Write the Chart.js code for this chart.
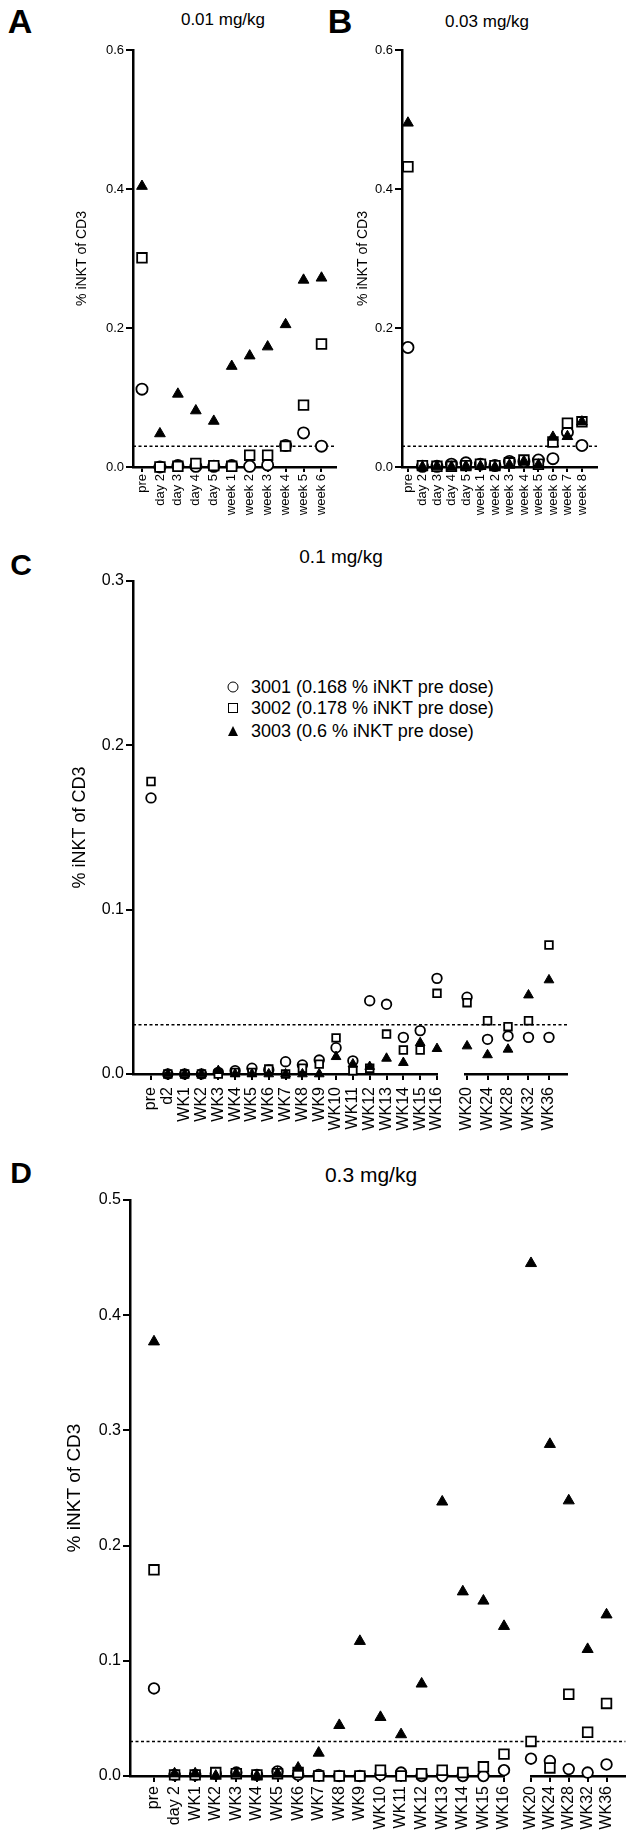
<!DOCTYPE html>
<html>
<head>
<meta charset="utf-8">
<script src="https://cdn.jsdelivr.net/npm/chart.js@4.4.1/dist/chart.umd.min.js"></script>
<style>
html,body{margin:0;padding:0;background:#fff;}
#page{position:relative;width:634px;height:1837px;overflow:hidden;font-family:'Liberation Sans',Arial,Helvetica,sans-serif;color:#000;background:#fff;}
#page canvas{position:absolute;}
.t{position:absolute;white-space:nowrap;line-height:1;transform:translate(-50%,-50%);}
.letter{font-weight:bold;}
.leg{position:absolute;white-space:nowrap;line-height:1;font-size:18px;transform:translateY(-50%);}
.sym{position:absolute;box-sizing:border-box;transform:translate(-50%,-50%);}
</style>
</head>
<body>
<div id="page">
  <div class="t letter" style="left:20px;top:21px;font-size:34px;">A</div>
  <div class="t" style="left:223px;top:19px;font-size:17px;">0.01 mg/kg</div>
  <div class="t letter" style="left:340px;top:21px;font-size:34px;">B</div>
  <div class="t" style="left:487px;top:21px;font-size:17px;">0.03 mg/kg</div>
  <div class="t letter" style="left:21px;top:565px;font-size:30px;">C</div>
  <div class="t" style="left:341px;top:556px;font-size:19px;">0.1 mg/kg</div>
  <div class="t letter" style="left:21px;top:1173px;font-size:30px;">D</div>
  <div class="t" style="left:371px;top:1174px;font-size:21px;">0.3 mg/kg</div>
  <div id="legendC"></div>
</div>
<script>
// ---------- DATA ----------
const yTitle = '% iNKT of CD3';
const cutoff = 0.03;

// Panel A (0.01 mg/kg)
const catsA = ['pre','day 2','day 3','day 4','day 5','week 1','week 2','week 3','week 4','week 5','week 6'];
const aCircle   = [0.112, 0.000, 0.002, 0.001, 0.001, 0.002, 0.001, 0.003, 0.031, 0.049, 0.030];
const aSquare   = [0.301, 0.000, 0.001, 0.005, 0.002, 0.001, 0.017, 0.017, 0.030, 0.089, 0.177];
const aTriangle = [0.404, 0.048, 0.105, 0.081, 0.066, 0.145, 0.160, 0.173, 0.205, 0.269, 0.272];

// Panel B (0.03 mg/kg)
const catsB = ['pre','day 2','day 3','day 4','day 5','week 1','week 2','week 3','week 4','week 5','week 6','week 7','week 8'];
const bCircle   = [0.172, 0.001, 0.001, 0.004, 0.006, 0.004, 0.002, 0.008, 0.008, 0.010, 0.012, 0.050, 0.031];
const bSquare   = [0.432, 0.002, 0.001, 0.001, 0.002, 0.004, 0.002, 0.006, 0.010, 0.004, 0.036, 0.063, 0.065];
const bTriangle = [0.495, 0.000, 0.001, 0.000, 0.001, 0.001, 0.000, 0.003, 0.008, 0.003, 0.043, 0.044, 0.065];

// Panel C (0.1 mg/kg) - two axis segments
const catsC1 = ['pre','d2','WK1','WK2','WK3','WK4','WK5','WK6','WK7','WK8','WK9','WK10','WK11','WK12','WK13','WK14','WK15','WK16'];
const catsC2 = ['WK20','WK24','WK28','WK32','WK36'];
const seriesNamesC = ['3001 (0.168 % iNKT pre dose)','3002 (0.178 % iNKT pre dose)','3003 (0.6 % iNKT pre dose)'];
const c3001 = [0.168, 0, 0, 0, 0.001, 0.002, 0.0035, 0.0025, 0.0075, 0.0055, 0.0085, 0.016, 0.008, 0.0446, 0.0424, 0.0223, 0.0264, 0.0582, 0.0467, 0.0211, 0.0231, 0.0223, 0.0223];
const c3002 = [0.178, 0, 0, 0, 0, 0.001, 0.001, 0.003, 0, 0.0035, 0.006, 0.022, 0.002, 0.0035, 0.0243, 0.0146, 0.0146, 0.0491, 0.0434, 0.0324, 0.0288, 0.0324, 0.0785];
const c3003 = [0.6, 0, 0, 0, 0.002, 0, 0, 0, 0, 0, 0, 0.0105, 0.006, 0.0045, 0.0095, 0.0069, 0.019, 0.0154, 0.017, 0.0116, 0.015, 0.048, 0.0572];

// Panel D (0.3 mg/kg) - two axis segments
const catsD1 = ['pre','day 2','WK1','WK2','WK3','WK4','WK5','WK6','WK7','WK8','WK9','WK10','WK11','WK12','WK13','WK14','WK15','WK16'];
const catsD2 = ['WK20','WK24','WK28','WK32','WK36'];
const dCircle   = [0.076, 0.001, 0.001, 0.002, 0.003, 0.001, 0.004, 0.001, 0.001, 0, 0, 0.001, 0.003, 0, 0, 0, 0, 0.005, 0.015, 0.013, 0.006, 0.003, 0.010];
const dSquare   = [0.179, 0.001, 0.001, 0.003, 0.002, 0.001, 0.002, 0.003, 0, 0, 0, 0.005, 0, 0.002, 0.005, 0.003, 0.008, 0.019, 0.030, 0.007, 0.071, 0.038, 0.063];
const dTriangle = [0.377, 0.002, 0.002, 0, 0.002, 0, 0.002, 0.007, 0.020, 0.044, 0.117, 0.051, 0.036, 0.080, 0.238, 0.160, 0.152, 0.130, 0.445, 0.288, 0.239, 0.110, 0.140];

const yTicksAB = [0, 0.2, 0.4, 0.6];
const yTicksC = [0, 0.1, 0.2, 0.3];
const yTicksD = [0, 0.1, 0.2, 0.3, 0.4, 0.5];

// ---------- RENDERING ----------
Chart.defaults.font.family = "'Liberation Sans', Arial, Helvetica, sans-serif";
Chart.defaults.color = '#000';

const thresholdPlugin = {
  id: 'threshold',
  beforeDatasetsDraw(chart, args, opts) {
    const y = chart.scales.y.getPixelForValue(opts.value);
    const a = chart.chartArea;
    const x2 = opts.toEdge ? chart.width : a.right;
    const ctx = chart.ctx;
    ctx.save();
    ctx.strokeStyle = '#000';
    ctx.lineWidth = opts.width;
    ctx.setLineDash(opts.dash);
    ctx.beginPath();
    ctx.moveTo(a.left, y);
    ctx.lineTo(x2, y);
    ctx.stroke();
    ctx.restore();
  }
};

const page = document.getElementById('page');
const toXY = arr => arr.map((v, i) => ({x: i, y: v}));
const clipBox = {left: 20, right: 20, top: 0, bottom: 20};

function sets(names, circle, square, triangle, r) {
  return [
    {label: names[0], data: toXY(circle), pointStyle: 'circle', pointRadius: r.c, pointBackgroundColor: '#fff', pointBorderColor: '#000', pointBorderWidth: 1.8, showLine: false, order: 3, clip: clipBox},
    {label: names[1], data: toXY(square), pointStyle: 'rect', pointRadius: r.s, pointBackgroundColor: '#fff', pointBorderColor: '#000', pointBorderWidth: 1.8, showLine: false, order: 2, clip: clipBox},
    {label: names[2], data: toXY(triangle), pointStyle: 'triangle', pointRadius: r.t, pointBackgroundColor: '#000', pointBorderColor: '#000', pointBorderWidth: 1, showLine: false, order: 1, clip: clipBox}
  ];
}

function build(o) {
  const cv = document.createElement('canvas');
  cv.width = o.w; cv.height = o.h;
  cv.style.left = o.x + 'px'; cv.style.top = o.y + 'px';
  cv.style.width = o.w + 'px'; cv.style.height = o.h + 'px';
  page.appendChild(cv);
  return new Chart(cv.getContext('2d'), {
    type: 'scatter',
    data: {datasets: o.datasets},
    options: {
      responsive: false, animation: false, events: [],
      layout: {padding: {left: o.padL || 0, top: o.padT, right: o.padR, bottom: 0}},
      plugins: {
        legend: {display: false}, tooltip: {enabled: false},
        threshold: {value: cutoff, toEdge: !!o.toEdge, dash: [3, 2.5], width: 1.5}
      },
      scales: {
        x: {
          type: 'linear', min: o.xMin, max: o.xMax,
          afterBuildTicks: s => { s.ticks = o.cats.map((c, i) => ({value: i})); },
          afterFit: s => { s.height = o.xH; },
          ticks: {autoSkip: false, minRotation: 90, maxRotation: 90, padding: o.xPad, font: {size: o.xFont}, callback: v => o.cats[v]},
          grid: {drawOnChartArea: false, drawTicks: true, tickLength: o.xTick, color: '#000', lineWidth: 2},
          border: {display: true, color: '#000', width: 2.5}
        },
        y: {
          type: 'linear', display: o.showY, min: o.yTicks[0], max: o.yTicks[o.yTicks.length - 1],
          afterBuildTicks: s => { s.ticks = o.yTicks.map(v => ({value: v})); },
          afterFit: s => { s.width = o.yW; },
          ticks: {padding: 2, font: {size: o.yFont}, callback: v => v.toFixed(1)},
          grid: {drawOnChartArea: false, drawTicks: true, tickLength: 7, color: '#000', lineWidth: 2},
          border: {display: true, color: '#000', width: 2.5},
          title: {display: true, text: yTitle, font: {size: o.yTitleFont}, padding: {top: o.yTitlePad, bottom: 0}}
        }
      }
    },
    plugins: [thresholdPlugin]
  });
}

const rAB = {c: 5.6, s: 6.8, t: 6.2};
const rC = {c: 4.8, s: 5.4, t: 5.6};
const rD = {c: 5.3, s: 6.8, t: 6.4};
const genericNames = ['Subject 1', 'Subject 2', 'Subject 3'];

// Panel A
build({x: 0, y: 0, w: 345, h: 530, padT: 50, padR: 7, yW: 133, xH: 63,
  xMin: -0.5, xMax: 10.83, cats: catsA, xFont: 13, xTick: 5, xPad: 2,
  showY: true, yTicks: yTicksAB, yFont: 13, yTitleFont: 14, yTitlePad: 73.6,
  datasets: sets(genericNames, aCircle, aSquare, aTriangle, rAB)});

// Panel B
build({x: 345, y: 0, w: 289, h: 530, padT: 50, padR: 37, yW: 57, xH: 63,
  xMin: -0.41, xMax: 13.04, cats: catsB, xFont: 13, xTick: 5, xPad: 2,
  showY: true, yTicks: yTicksAB, yFont: 13, yTitleFont: 14, yTitlePad: 9.6,
  datasets: sets(genericNames, bCircle, bSquare, bTriangle, rAB)});

// Panel C - first segment
const nC1 = catsC1.length;
build({x: 0, y: 540, w: 465, h: 610, padT: 41, padR: 28, yW: 133, xH: 76,
  xMin: -1.07, xMax: nC1 - 1, cats: catsC1, xFont: 16, xTick: 6, xPad: 7, toEdge: true,
  showY: true, yTicks: yTicksC, yFont: 16, yTitleFont: 18, yTitlePad: 69,
  datasets: sets(seriesNamesC, c3001.slice(0, nC1), c3002.slice(0, nC1), c3003.slice(0, nC1), rC)});
// Panel C - second segment
build({x: 449, y: 540, w: 185, h: 610, padL: 16, padT: 41, padR: 67, yW: 0, xH: 76,
  xMin: -0.1, xMax: 4.88, cats: catsC2, xFont: 16, xTick: 6, xPad: 7,
  showY: false, yTicks: yTicksC, yFont: 16, yTitleFont: 18, yTitlePad: 0,
  datasets: sets(seriesNamesC, c3001.slice(nC1), c3002.slice(nC1), c3003.slice(nC1), rC)});

// Panel D - first segment
const nD1 = catsD1.length;
build({x: 0, y: 1150, w: 531, h: 687, padT: 50, padR: 27, yW: 130, xH: 61,
  xMin: -1.165, xMax: nD1 - 1, cats: catsD1, xFont: 16, xTick: 6, xPad: 4, toEdge: true,
  showY: true, yTicks: yTicksD, yFont: 16, yTitleFont: 19, yTitlePad: 63.6,
  datasets: sets(genericNames, dCircle.slice(0, nD1), dSquare.slice(0, nD1), dTriangle.slice(0, nD1), rD)});
// Panel D - second segment
build({x: 515, y: 1150, w: 119, h: 687, padL: 16, padT: 50, padR: 1, yW: 0, xH: 61,
  xMin: 0, xMax: 5.0, cats: catsD2, xFont: 16, xTick: 6, xPad: 4,
  showY: false, yTicks: yTicksD, yFont: 16, yTitleFont: 19, yTitlePad: 0,
  datasets: sets(genericNames, dCircle.slice(nD1), dSquare.slice(nD1), dTriangle.slice(nD1), rD)});

// Legend for panel C (real text)
const legendRowsY = [687, 708, 731];
const legendHost = document.getElementById('legendC');
const symStyles = [
  'width:11px;height:11px;border:1.6px solid #000;border-radius:50%;background:#fff;',
  'width:10px;height:10px;border:1.6px solid #000;background:#fff;',
  'width:0;height:0;border-left:5.5px solid transparent;border-right:5.5px solid transparent;border-bottom:10px solid #000;'
];
seriesNamesC.forEach((name, i) => {
  const s = document.createElement('div');
  s.className = 'sym';
  s.style.cssText += 'left:233px;top:' + legendRowsY[i] + 'px;' + symStyles[i];
  legendHost.appendChild(s);
  const t = document.createElement('div');
  t.className = 'leg';
  t.style.left = '251px';
  t.style.top = legendRowsY[i] + 'px';
  t.textContent = name;
  legendHost.appendChild(t);
});
</script>
</body>
</html>
